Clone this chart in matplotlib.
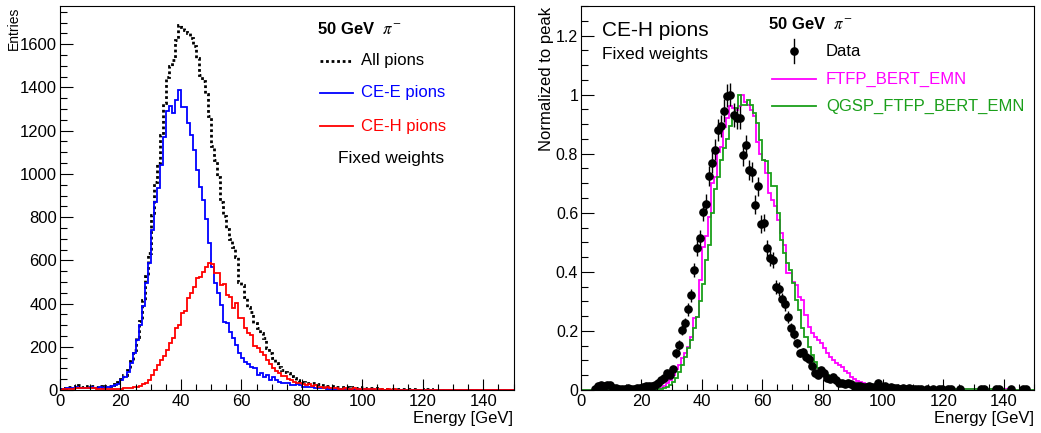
import matplotlib
matplotlib.use("Agg")
import matplotlib.pyplot as plt
from matplotlib.lines import Line2D
from matplotlib.ticker import MultipleLocator, FuncFormatter
import numpy as np

plt.rcParams['font.family'] = ['Liberation Sans', 'DejaVu Sans']
plt.rcParams['mathtext.fontset'] = 'stix'

# 1 GeV bins from 0 to 150
edges = np.arange(0, 151, 1)
centers = edges[:-1] + 0.5

# left panel: entries per bin
all_pions = [
    6, 10, 13, 14, 12, 20, 25, 16, 16, 19,
    20, 17, 15, 17, 16, 18, 19, 22, 27, 35,
    52, 70, 93, 133, 183, 246, 321, 418, 528, 632,
    809, 964, 1049, 1180, 1330, 1450, 1500, 1528, 1620, 1690,
    1682, 1666, 1650, 1630, 1590, 1535, 1460, 1430, 1370, 1270,
    1130, 1065, 987, 870, 805, 745, 700, 660, 615, 501,
    486, 432, 386, 363, 310, 285, 262, 239, 193, 170,
    147, 123, 108, 93, 85, 77, 65, 54, 46, 40,
    39, 33, 31, 31, 32, 30, 25, 22, 20, 18,
    17, 15, 14, 13, 14, 12, 11, 12, 10, 10,
    12, 9, 8, 7, 7, 6, 5, 5, 6, 4,
    5, 4, 3, 4, 3, 3, 3, 3, 2, 3,
    2, 3, 3, 2, 2, 1, 1, 2, 1, 1,
    2, 1, 1, 1, 0, 1, 1, 0, 1, 1,
    0, 1, 1, 0, 0, 1, 1, 0, 0, 0]
cee_pions = [
    4, 6, 8, 8, 7, 12, 10, 9, 8, 10,
    12, 10, 9, 12, 11, 13, 15, 18, 22, 30,
    46, 62, 85, 123, 170, 231, 301, 390, 494, 586,
    740, 871, 933, 1041, 1172, 1290, 1315, 1280, 1340, 1390,
    1311, 1311, 1234, 1180, 1111, 1018, 941, 880, 790, 679,
    571, 494, 447, 393, 316, 308, 270, 239, 208, 170,
    147, 131, 119, 108, 100, 69, 77, 62, 69, 46,
    62, 46, 39, 34, 34, 31, 23, 23, 28, 23,
    15, 12, 15, 12, 10, 8, 7, 8, 6, 6,
    5, 4, 5, 4, 3, 4, 3, 3, 3, 2,
    3, 2, 2, 3, 2, 2, 1, 2, 2, 1,
    2, 1, 1, 2, 1, 1, 1, 2, 1, 1,
    1, 2, 1, 1, 1, 0, 1, 1, 0, 1,
    1, 0, 1, 0, 0, 1, 0, 0, 1, 0,
    0, 1, 0, 0, 0, 1, 0, 0, 0, 0]
ceh_pions = [
    2, 4, 5, 6, 5, 8, 8, 7, 8, 9,
    8, 7, 6, 5, 5, 5, 4, 4, 5, 5,
    6, 8, 8, 10, 13, 15, 20, 28, 34, 46,
    69, 93, 116, 139, 157, 185, 216, 239, 285, 301,
    355, 367, 424, 451, 478, 516, 524, 548, 571, 586,
    583, 543, 540, 486, 489, 440, 432, 378, 404, 332,
    332, 285, 265, 255, 204, 193, 177, 162, 139, 120,
    100, 90, 80, 65, 65, 49, 46, 39, 34, 31,
    28, 23, 26, 19, 23, 15, 12, 10, 12, 10,
    8, 8, 6, 5, 8, 5, 5, 8, 6, 5,
    4, 5, 3, 4, 3, 3, 4, 2, 3, 2,
    3, 2, 2, 2, 1, 2, 2, 1, 1, 2,
    1, 1, 2, 1, 1, 1, 0, 1, 1, 0,
    1, 1, 0, 1, 0, 0, 1, 0, 0, 1,
    0, 0, 1, 0, 0, 0, 1, 0, 0, 0]

# right panel: normalized to peak
ftfp = [
    0, 0, 0, 0, 0, 0.002, 0.002, 0.002, 0.002, 0.002,
    0.002, 0.002, 0.002, 0.002, 0.002, 0.002, 0.002, 0.002, 0.002, 0.002,
    0.004, 0.004, 0.004, 0.004, 0.004, 0.006, 0.008, 0.012, 0.023, 0.034,
    0.05, 0.07, 0.085, 0.107, 0.124, 0.147, 0.18, 0.243, 0.248, 0.373,
    0.485, 0.52, 0.587, 0.70, 0.722, 0.807, 0.824, 0.892, 0.92, 0.96,
    0.954, 0.948, 0.962, 1.0, 0.975, 0.965, 0.948, 0.926, 0.841, 0.80,
    0.779, 0.734, 0.668, 0.643, 0.623, 0.576, 0.531, 0.491, 0.395, 0.395,
    0.367, 0.356, 0.316, 0.305, 0.254, 0.214, 0.192, 0.181, 0.17, 0.158,
    0.141, 0.124, 0.113, 0.102, 0.09, 0.085, 0.079, 0.065, 0.056, 0.045,
    0.036, 0.03, 0.026, 0.023, 0.02, 0.019, 0.017, 0.016, 0.014, 0.013,
    0.012, 0.011, 0.01, 0.01, 0.009, 0.009, 0.008, 0.008, 0.007, 0.007,
    0.006, 0.006, 0.005, 0.005, 0.005, 0.005, 0.004, 0.004, 0.004, 0.004,
    0.004, 0.004, 0.003, 0.003, 0.003, 0.003, 0.002, 0.002, 0.002, 0.002,
    0.002, 0.002, 0.002, 0.002, 0.002, 0.002, 0.002, 0.002, 0.002, 0.002,
    0.002, 0.002, 0.001, 0.001, 0.001, 0.001, 0.001, 0.001, 0.001, 0.001]
qgsp = [
    0, 0, 0, 0, 0, 0.002, 0.002, 0.002, 0.002, 0.002,
    0.002, 0.002, 0.002, 0.002, 0.002, 0.002, 0.002, 0.002, 0.002, 0.002,
    0.002, 0.002, 0.002, 0.002, 0.002, 0.003, 0.004, 0.006, 0.01, 0.017,
    0.028, 0.04, 0.062, 0.085, 0.113, 0.141, 0.17, 0.21, 0.248, 0.30,
    0.36, 0.44, 0.49, 0.60, 0.68, 0.72, 0.78, 0.82, 0.85, 0.895,
    0.926, 0.954, 1.0, 0.965, 0.965, 0.982, 0.965, 0.937, 0.903, 0.847,
    0.779, 0.775, 0.734, 0.689, 0.689, 0.598, 0.508, 0.463, 0.429, 0.406,
    0.361, 0.305, 0.271, 0.209, 0.181, 0.147, 0.119, 0.096, 0.074, 0.062,
    0.057, 0.05, 0.045, 0.04, 0.034, 0.03, 0.026, 0.022, 0.02, 0.018,
    0.016, 0.015, 0.014, 0.013, 0.012, 0.011, 0.01, 0.01, 0.009, 0.009,
    0.008, 0.008, 0.007, 0.007, 0.006, 0.006, 0.006, 0.005, 0.005, 0.005,
    0.004, 0.004, 0.004, 0.004, 0.003, 0.003, 0.003, 0.003, 0.003, 0.003,
    0.003, 0.003, 0.003, 0.002, 0.002, 0.002, 0.002, 0.002, 0.002, 0.002,
    0.002, 0.002, 0.002, 0.002, 0.002, 0.002, 0.002, 0.002, 0.002, 0.002,
    0.001, 0.001, 0.001, 0.001, 0.001, 0.001, 0.001, 0.001, 0.001, 0.001]
nan = np.nan
data = [
    nan, nan, nan, nan, 0.002, 0.014, 0.017, 0.015, 0.017, 0.017,
    0.006, 0.006, 0.004, 0.003, 0.005, 0.006, 0.005, 0.004, 0.007, 0.008,
    0.011, 0.013, 0.012, 0.015, 0.017, 0.023, 0.034, 0.04, 0.056, 0.05,
    0.07, 0.124, 0.152, 0.203, 0.226, 0.273, 0.32, 0.406, 0.482, 0.513,
    0.604, 0.63, 0.725, 0.77, 0.813, 0.88, 0.894, 0.945, 0.997, 1.0,
    0.931, 0.92, 0.922, 0.796, 0.828, 0.745, 0.737, 0.627, 0.689, 0.562,
    0.567, 0.48, 0.448, 0.44, 0.348, 0.341, 0.307, 0.291, 0.248, 0.209,
    0.189, 0.158, 0.126, 0.128, 0.113, 0.104, 0.081, 0.059, 0.051, 0.068,
    0.059, 0.042, 0.036, 0.045, 0.034, 0.023, 0.025, 0.02, 0.023, 0.02,
    0.015, 0.012, 0.013, 0.011, 0.01, 0.012, 0.01, 0.009, 0.023, 0.01,
    0.012, 0.008, 0.01, 0.006, 0.007, 0.005, 0.006, 0.004, 0.006, 0.005,
    0.003, 0.004, 0.005, nan, 0.003, nan, 0.003, nan, 0.002, 0.003,
    nan, 0.002, 0.002, nan, nan, 0.005, nan, nan, nan, nan,
    nan, nan, 0.002, 0.002, nan, nan, nan, 0.002, 0.002, nan,
    nan, nan, 0.002, nan, nan, nan, 0.002, 0.002, nan, nan]
data_err = [
    0, 0, 0, 0, 0.002, 0.005, 0.005, 0.005, 0.005, 0.005,
    0.003, 0.003, 0.003, 0.002, 0.003, 0.003, 0.003, 0.003, 0.003, 0.004,
    0.004, 0.005, 0.004, 0.005, 0.005, 0.006, 0.007, 0.008, 0.009, 0.009,
    0.010, 0.014, 0.016, 0.018, 0.019, 0.021, 0.022, 0.025, 0.028, 0.029,
    0.031, 0.032, 0.034, 0.035, 0.036, 0.037, 0.038, 0.039, 0.040, 0.040,
    0.039, 0.038, 0.038, 0.036, 0.036, 0.035, 0.034, 0.032, 0.033, 0.030,
    0.030, 0.028, 0.027, 0.027, 0.024, 0.023, 0.022, 0.022, 0.020, 0.018,
    0.017, 0.016, 0.014, 0.014, 0.013, 0.013, 0.011, 0.010, 0.009, 0.010,
    0.010, 0.008, 0.008, 0.008, 0.007, 0.006, 0.006, 0.006, 0.006, 0.006,
    0.005, 0.004, 0.005, 0.004, 0.004, 0.004, 0.004, 0.004, 0.006, 0.004,
    0.004, 0.004, 0.004, 0.003, 0.003, 0.003, 0.003, 0.003, 0.003, 0.003,
    0.002, 0.003, 0.003, 0, 0.002, 0, 0.002, 0, 0.002, 0.002,
    0, 0.002, 0.002, 0, 0, 0.003, 0, 0, 0, 0,
    0, 0, 0.002, 0.002, 0, 0, 0, 0.002, 0.002, 0,
    0, 0, 0.002, 0, 0, 0, 0.002, 0.002, 0, 0]

W, H = 1041, 433
GREEN = '#1a9f1a'


def fx(x):
    return x / W


def fy(y):
    return 1 - y / H


def root_axes(ax, ymaj, ymin, yfmt, ysize):
    ax.xaxis.set_major_locator(MultipleLocator(20))
    ax.xaxis.set_minor_locator(MultipleLocator(5))
    ax.yaxis.set_major_locator(MultipleLocator(ymaj))
    ax.yaxis.set_minor_locator(MultipleLocator(ymin))
    ax.yaxis.set_major_formatter(FuncFormatter(yfmt))
    ax.tick_params(axis='both', which='both', direction='in', width=0.8,
                   top=False, right=False)
    ax.tick_params(axis='x', which='major', length=8, pad=3, labelsize=12)
    ax.tick_params(axis='x', which='minor', length=4.3)
    ax.tick_params(axis='y', which='major', length=9.4, pad=2, labelsize=ysize)
    ax.tick_params(axis='y', which='minor', length=5)
    for s in ax.spines.values():
        s.set_linewidth(0.8)


def legend_line(x0, x1, y, **kw):
    fig.add_artist(Line2D([fx(x0), fx(x1)], [fy(y), fy(y)], transform=fig.transFigure, **kw))


fig = plt.figure(figsize=(W / 100, H / 100), dpi=100)

# ---- left: energy sums
ax1 = fig.add_axes([fx(60), fy(390), (513.5 - 60) / W, (390 - 6) / H])
ax1.stairs(all_pions, edges, color='black', lw=2.0, linestyle=(0, (1, 1)))
ax1.stairs(cee_pions, edges, color='#0000ff', lw=1.3)
ax1.stairs(ceh_pions, edges, color='#ff0000', lw=1.3)
ax1.set_xlim(0, 150)
ax1.set_ylim(0, 1777)
root_axes(ax1, 200, 50, lambda v, p: '%d' % v, 12)

fig.text(fx(317), fy(29), r'50 GeV  $\pi^{-}$', fontsize=12, fontweight='bold', va='center')
legend_line(320, 353, 61, color='black', lw=2.0, linestyle=(0, (1, 1)))
fig.text(fx(361), fy(61), 'All pions', fontsize=12, va='center')
legend_line(320, 353, 93, color='#0000ff', lw=1.3)
fig.text(fx(361), fy(93), 'CE-E pions', fontsize=12, va='center', color='#0000ff')
legend_line(320, 353, 126, color='#ff0000', lw=1.3)
fig.text(fx(361), fy(126), 'CE-H pions', fontsize=12, va='center', color='#ff0000')
fig.text(fx(338), fy(159), 'Fixed weights', fontsize=12.5, va='center')
fig.text(fx(14), fy(7), 'Entries', fontsize=10, rotation=90, ha='center', va='top')
fig.text(fx(513), fy(418), 'Energy [GeV]', fontsize=12, ha='right', va='center')

# ---- right: normalized comparison
ax2 = fig.add_axes([fx(581), fy(390), (1034 - 581) / W, (390 - 6) / H])
ax2.stairs(ftfp, edges, color='#ff00ff', lw=1.3)
ax2.stairs(qgsp, edges, color=GREEN, lw=1.3)
ax2.errorbar(centers, data, yerr=data_err, fmt='o', color='black', ms=5.2,
             elinewidth=1.0, capsize=0, zorder=5)
ax2.set_xlim(0, 150)
ax2.set_ylim(0, 1.3)
root_axes(ax2, 0.2, 0.05, lambda v, p: '%g' % round(v, 2), 11.5)

fig.text(fx(602), fy(31), 'CE-H pions', fontsize=15, va='center')
fig.text(fx(602), fy(54), 'Fixed weights', fontsize=12.5, va='center')
fig.text(fx(768), fy(24), r'50 GeV  $\pi^{-}$', fontsize=12, fontweight='bold', va='center')
fig.add_artist(Line2D([fx(794), fx(794)], [fy(39), fy(63)], transform=fig.transFigure,
                      color='black', lw=1.0))
fig.add_artist(Line2D([fx(794)], [fy(51)], transform=fig.transFigure, marker='o',
                      color='black', ms=5.2))
fig.text(fx(826), fy(51), 'Data', fontsize=12, va='center')
legend_line(772, 816, 79, color='#ff00ff', lw=1.3)
fig.text(fx(826), fy(79), 'FTFP_BERT_EMN', fontsize=12, va='center', color='#ff00ff')
legend_line(772, 816, 106, color=GREEN, lw=1.3)
fig.text(fx(826), fy(106), 'QGSP_FTFP_BERT_EMN', fontsize=12, va='center', color=GREEN)
fig.text(fx(547), fy(7), 'Normalized to peak', fontsize=12, rotation=90, ha='center', va='top')
fig.text(fx(1034), fy(418), 'Energy [GeV]', fontsize=12, ha='right', va='center')

fig.savefig('out.png', dpi=100)
